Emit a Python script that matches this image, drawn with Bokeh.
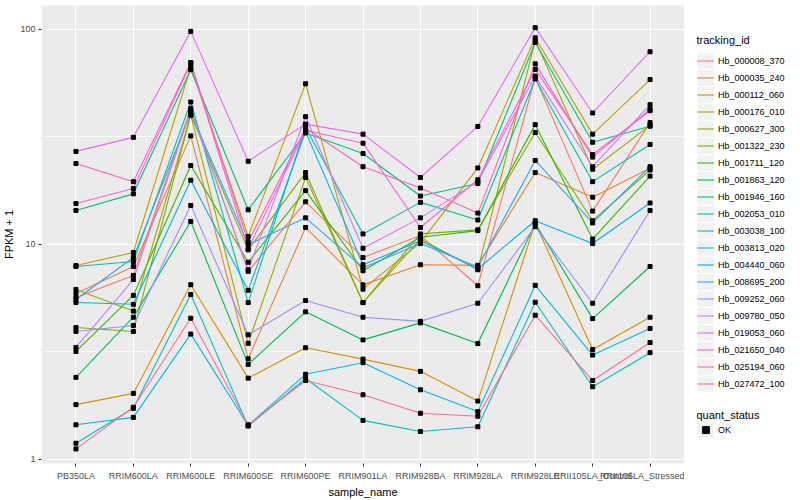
from bokeh.plotting import figure
from bokeh.models import (FactorRange, Range1d, FixedTicker, Legend, LegendItem,
                          ColumnDataSource, PrintfTickFormatter)
from bokeh.layouts import row
from bokeh.core.properties import value
from bokeh.embed import file_html
from bokeh.resources import INLINE

FONT = "Liberation Sans"

samples = ["PB350LA", "RRIM600LA", "RRIM600LE", "RRIM600SE", "RRIM600PE", "RRIM901LA",
           "RRIM928BA", "RRIM928LA", "RRIM928LE", "RRII105LA_Control", "RRII105LA_Stressed"]

tracking_ids = ["Hb_000008_370", "Hb_000035_240", "Hb_000112_060", "Hb_000176_010",
                "Hb_000627_300", "Hb_001322_230", "Hb_001711_120", "Hb_001863_120",
                "Hb_001946_160", "Hb_002053_010", "Hb_003038_100", "Hb_003813_020",
                "Hb_004440_060", "Hb_008695_200", "Hb_009252_060", "Hb_009780_050",
                "Hb_019053_060", "Hb_021650_040", "Hb_025194_060", "Hb_027472_100"]

colors = ["#F8766D", "#EA8331", "#D89000", "#C09B00", "#A3A500", "#7CAE00", "#39B600",
          "#00BB4E", "#00BF7D", "#00C1A3", "#00BFC4", "#00BAE0", "#00B0F6", "#35A2FF",
          "#9590FF", "#C77CFF", "#E76BF3", "#FA62DB", "#FF62BC", "#FF6C91"]

# FPKM + 1 values, one list per gene, in the order of `samples`
hb_000008_370 = [5.67, 7.18, 43.0, 7.5, 15.8, 8.7, 11.0, 6.43, 59.8, 14.3, 36.9]
hb_000035_240 = [5.92, 7.9, 32.0, 2.94, 12.0, 6.49, 8.05, 8.0, 21.6, 16.6, 22.6]
hb_000112_060 = [1.80, 2.03, 6.5, 2.39, 3.31, 2.93, 2.57, 1.87, 12.6, 3.25, 4.59]
hb_000176_010 = [7.99, 9.18, 67.0, 10.9, 55.9, 6.2, 10.2, 22.7, 91.5, 32.6, 58.5]
hb_000627_300 = [6.18, 4.9, 40.0, 3.47, 20.5, 5.37, 10.6, 7.63, 89.0, 22.4, 35.8]
hb_001322_230 = [4.11, 3.94, 40.0, 9.44, 21.6, 5.37, 11.2, 11.7, 33.2, 12.9, 22.2]
hb_001711_120 = [3.18, 5.8, 23.3, 8.27, 17.8, 7.55, 10.8, 11.6, 36.1, 10.6, 20.8]
hb_001863_120 = [2.41, 4.59, 12.8, 2.77, 4.86, 3.6, 4.32, 3.46, 12.5, 4.52, 7.9]
hb_001946_160 = [14.4, 17.2, 65.0, 14.5, 33.0, 26.5, 16.8, 19.2, 87.0, 29.9, 35.5]
hb_002053_010 = [7.9, 8.33, 46.0, 5.37, 35.0, 11.2, 15.7, 13.0, 58.9, 19.6, 29.2]
hb_003038_100 = [1.19, 1.73, 5.85, 1.43, 2.38, 1.52, 1.35, 1.42, 5.39, 2.18, 3.14]
hb_003813_020 = [1.45, 1.57, 3.83, 1.44, 2.49, 2.82, 2.11, 1.67, 6.46, 3.06, 4.07]
hb_004440_060 = [5.37, 5.27, 19.9, 6.12, 33.5, 8.05, 10.4, 7.7, 12.9, 10.1, 15.6]
hb_008695_200 = [5.55, 8.7, 41.0, 10.0, 13.3, 7.8, 10.1, 7.86, 24.6, 12.6, 23.0]
hb_009252_060 = [3.94, 4.2, 15.2, 3.80, 5.49, 4.59, 4.39, 5.33, 12.1, 5.33, 14.4]
hb_009780_050 = [3.32, 6.87, 42.0, 7.63, 39.3, 9.6, 13.3, 19.6, 60.7, 23.0, 44.7]
hb_019053_060 = [27.1, 31.5, 98.0, 24.4, 36.3, 32.6, 20.5, 35.4, 102.0, 40.9, 78.8]
hb_021650_040 = [15.5, 18.2, 69.7, 9.55, 34.0, 29.6, 12.0, 20.0, 65.2, 26.2, 41.9]
hb_025194_060 = [23.8, 19.6, 70.2, 10.3, 34.7, 23.0, 18.3, 14.0, 69.2, 25.5, 42.5]
hb_027472_100 = [1.12, 1.75, 4.54, 1.45, 2.33, 2.0, 1.64, 1.59, 4.69, 2.33, 3.5]

series = [hb_000008_370, hb_000035_240, hb_000112_060, hb_000176_010, hb_000627_300,
          hb_001322_230, hb_001711_120, hb_001863_120, hb_001946_160, hb_002053_010,
          hb_003038_100, hb_003813_020, hb_004440_060, hb_008695_200, hb_009252_060,
          hb_009780_050, hb_019053_060, hb_021650_040, hb_025194_060, hb_027472_100]

y_ticks = [1, 10, 100]
y_minor = [10 ** 0.5, 10 ** 1.5]

# ---------------- main panel ----------------
p = figure(x_range=FactorRange(factors=samples, range_padding=0.1, range_padding_units="absolute"),
           y_range=Range1d(0.958, 129.3), y_axis_type="log",
           width=684, height=500, output_backend="svg", toolbar_location=None,
           min_border_left=40, min_border_right=0, min_border_top=5, min_border_bottom=37)
p.background_fill_color = "#EBEBEB"
p.border_fill_color = "white"
p.outline_line_color = None

ticker = FixedTicker(ticks=y_ticks, minor_ticks=y_minor)
p.yaxis.ticker = ticker
p.ygrid.ticker = ticker
p.yaxis.formatter = PrintfTickFormatter(format="%d")

for g in (p.xgrid, p.ygrid):
    g.grid_line_color = "white"
    g.grid_line_width = 1.1
p.ygrid.minor_grid_line_color = "white"
p.ygrid.minor_grid_line_width = 0.7

for ax in (p.xaxis, p.yaxis):
    ax.axis_line_color = None
    ax.major_tick_line_color = "#333333"
    ax.major_tick_out = 3
    ax.major_tick_in = 0
    ax.minor_tick_line_color = None
    ax.major_label_text_font = FONT
    ax.major_label_text_font_size = "9px"
    ax.major_label_text_color = "#4D4D4D"
    ax.axis_label_text_font = FONT
    ax.axis_label_text_font_size = "11px"
    ax.axis_label_text_font_style = "normal"
    ax.axis_label_text_color = "black"
    ax.axis_label_standoff = 2
p.xaxis.major_label_standoff = 4
p.yaxis.major_label_standoff = 2
p.xaxis.axis_label = "sample_name"
p.yaxis.axis_label = "FPKM + 1"
p.xaxis.major_label_orientation = "horizontal"

for vals, col in zip(series, colors):
    p.line(x=samples, y=vals, line_color=col, line_width=1.1)

pts = ColumnDataSource(dict(
    x=[s for _ in series for s in samples],
    y=[v for vals in series for v in vals],
))
p.scatter(x="x", y="y", source=pts, marker="square", size=4, color="black")

# ---------------- legend column ----------------
# frame is aligned with the main panel (page y 5..463); data y = 500 - page y
lf = figure(width=116, height=500, x_range=Range1d(0, 116), y_range=Range1d(37, 495),
            output_backend="svg", toolbar_location=None, min_border=0,
            min_border_top=5, min_border_bottom=37,
            x_axis_location=None, y_axis_location=None)
lf.grid.visible = False
lf.outline_line_color = None
lf.background_fill_color = "white"
lf.border_fill_color = "white"

OFF = [-1000]  # dummy key renderers sit outside the visible range
key_bg = lf.line(x=OFF, y=OFF, line_color="#F2F2F2", line_width=15.5)
items = []
for tid, col in zip(tracking_ids, colors):
    r = lf.line(x=OFF, y=OFF, line_color=col, line_width=1.1)
    items.append(LegendItem(label=tid, renderers=[key_bg, r]))

leg_style = dict(glyph_width=17, glyph_height=17, label_height=17, spacing=0, padding=0,
                 margin=0, label_standoff=4, label_text_font=FONT,
                 label_text_font_size="9px", label_text_color="black",
                 border_line_color=None, background_fill_alpha=0)
lf.add_layout(Legend(items=items, location=(13, 71), **leg_style))

ok_pt = lf.scatter(x=OFF, y=OFF, marker="square", color="black")
lf.add_layout(Legend(items=[LegendItem(label="OK", renderers=[key_bg, ok_pt])],
                     location=(13, 25), **leg_style))

lf.text(x=[12, 12], y=[461, 86], text=["tracking_id", "quant_status"],
        text_font=value(FONT), text_font_size="11px", text_color="black",
        text_align="left", text_baseline="middle")

layout = row(p, lf)
open("out.html", "w").write(file_html(layout, INLINE))
